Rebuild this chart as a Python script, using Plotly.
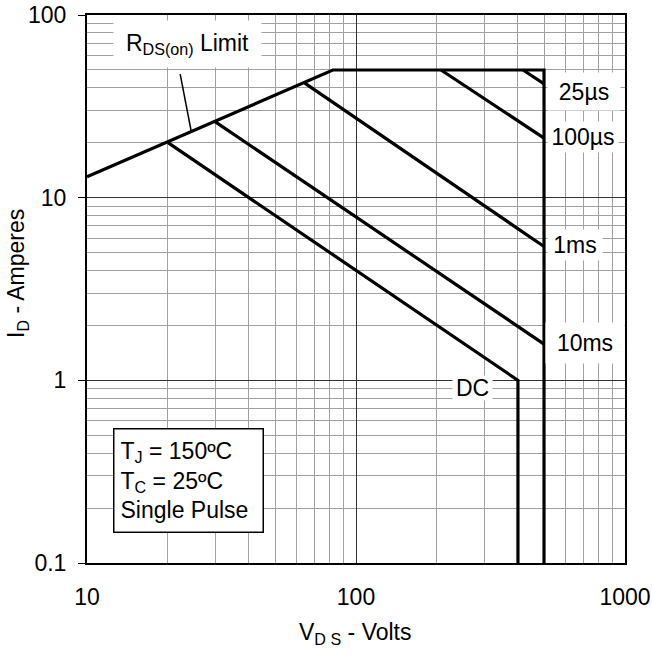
import plotly.graph_objects as go

# ---- data ----
limit_x = [10, 82, 500, 500]          # RDS(on) limit + current limit + voltage limit
limit_y = [13, 50, 50, 0.1]
us25_x = [418, 500]
us25_y = [50, 42]
us100_x = [207, 500]
us100_y = [50, 21.2]
ms1_x = [64.5, 500]
ms1_y = [42.4, 5.4]
ms10_x = [30, 500]
ms10_y = [26, 1.58]
dc_x = [20, 400, 400]
dc_y = [20, 1.0, 0.1]
leader_x = [22.2, 24.4]
leader_y = [47.5, 23.1]

x_ticks = [10, 100, 1000]
x_tick_text = ["10", "100", "1000"]
y_ticks = [0.1, 1, 10, 100]
y_tick_text = ["0.1", "1", "10", "100"]
x_minor = [m * d for d in (10, 100) for m in range(2, 10)]
y_minor = [m * d for d in (0.1, 1, 10) for m in range(2, 10)]

FONT = "Arial, Liberation Sans, sans-serif"
FS = 23
fig = go.Figure()

for xs, ys in [(limit_x, limit_y), (us25_x, us25_y), (us100_x, us100_y),
               (ms1_x, ms1_y), (ms10_x, ms10_y), (dc_x, dc_y)]:
    fig.add_trace(go.Scatter(x=xs, y=ys, mode="lines",
                             line=dict(color="black", width=3.2),
                             showlegend=False, hoverinfo="skip"))
fig.add_trace(go.Scatter(x=leader_x, y=leader_y, mode="lines",
                         line=dict(color="black", width=1.5),
                         showlegend=False, hoverinfo="skip"))

def lx(px):
    return (px - 87) / 269 + 1

def ly(py):
    return (563 - py) / 182.7 - 1

f = dict(family=FONT, size=FS, color="black")
ann = []
# RDS(on) label
ann.append(dict(x=lx(187), y=ly(44), xref="x", yref="y",
                text="R<sub>DS(on)</sub> Limit", showarrow=False, font=f,
                bgcolor="white", width=147, height=46, borderpad=0))
# duration labels: (text, box left, box right, centre y, height)
for txt, x0, x1, yc, h in [("25µs", 548, 620, 91.5, 37), ("100µs", 548, 618, 137, 30),
                           ("1ms", 548, 602, 245, 30), ("10ms", 546, 624, 343, 40),
                           ("DC", 453, 492, 388, 24)]:
    ann.append(dict(x=lx((x0 + x1) / 2), y=ly(yc), xref="x", yref="y", text=txt,
                    showarrow=False, font=f, align="center",
                    bgcolor="white", width=x1 - x0, height=h, borderpad=0))
# conditions box
ann.append(dict(x=lx(188.5), y=ly(480.5), xref="x", yref="y",
                text="T<sub>J</sub> = 150ºC<br>T<sub>C</sub> = 25ºC<br>Single Pulse",
                showarrow=False, align="left", font=f,
                bgcolor="white", bordercolor="black", borderwidth=1.5,
                width=136, height=90, borderpad=6))
# axis titles
ann.append(dict(x=(17 - 87) / 538, y=(563 - 274) / 548, xref="paper", yref="paper",
                xanchor="center", yanchor="middle",
                text="I<sub>D</sub> - Amperes", textangle=-90, showarrow=False, font=f))
ann.append(dict(x=(355 - 87) / 538, y=(563 - 633) / 548, xref="paper", yref="paper",
                xanchor="center", yanchor="middle",
                text="V<sub>D S</sub> - Volts", showarrow=False, font=f))

fig.update_layout(
    width=652, height=656,
    margin=dict(l=87, r=27, t=15, b=93, autoexpand=False),
    paper_bgcolor="white", plot_bgcolor="white",
    annotations=ann,
    font=dict(family=FONT, size=FS, color="black"),
)
fig.update_xaxes(type="log", range=[1, 3], tickmode="array", tickvals=x_ticks,
                 ticktext=x_tick_text, ticks="", ticklabelstandoff=12, automargin=False,
                 showline=True, linecolor="black", linewidth=2, mirror=True,
                 showgrid=True, gridcolor="#333333", gridwidth=1, zeroline=False,
                 minor=dict(tickmode="array", tickvals=x_minor, showgrid=True,
                            gridcolor="#a0a0a0", gridwidth=1, ticks=""),
                 tickfont=f)
fig.update_yaxes(type="log", range=[-1, 2], tickmode="array", tickvals=y_ticks,
                 ticktext=y_tick_text, ticks="outside", ticklen=7, tickcolor="black",
                 tickwidth=1, ticklabelstandoff=7, automargin=False,
                 showline=True, linecolor="black", linewidth=2, mirror=True,
                 showgrid=True, gridcolor="#333333", gridwidth=1, zeroline=False,
                 minor=dict(tickmode="array", tickvals=y_minor, showgrid=True,
                            gridcolor="#a0a0a0", gridwidth=1, ticks=""),
                 tickfont=f)

fig.write_html("out.html")
